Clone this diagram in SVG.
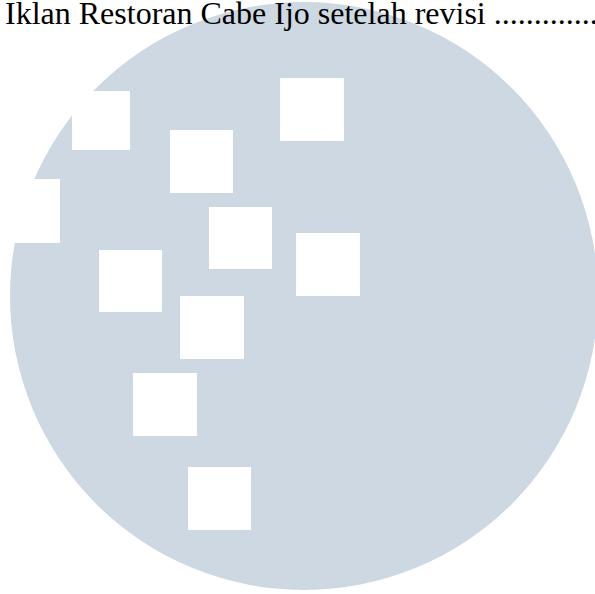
<svg xmlns="http://www.w3.org/2000/svg" width="595" height="594" viewBox="0 0 595 594">
  <style>
    .bg { fill: #ffffff; }
    .disc { fill: #CDD8E2; }
    .sq { fill: #ffffff; }
    .caption { font-family: "Liberation Serif", "Times New Roman", serif; font-size: 32px; fill: #000000; }
  </style>
  <rect class="bg" x="0" y="0" width="595" height="594"/>
  <circle class="disc" cx="304" cy="296" r="294"/>
  <g id="squares">
    <rect class="sq" x="72" y="91" width="58" height="59"/>
    <rect class="sq" x="170" y="130" width="63" height="63"/>
    <rect class="sq" x="-3" y="179" width="63" height="64"/>
    <rect class="sq" x="209" y="207" width="63" height="62"/>
    <rect class="sq" x="99" y="250" width="63" height="62"/>
    <rect class="sq" x="280" y="78" width="64" height="63"/>
    <rect class="sq" x="296" y="233" width="64" height="63"/>
    <rect class="sq" x="180" y="296" width="64" height="63"/>
    <rect class="sq" x="133" y="373" width="64" height="63"/>
    <rect class="sq" x="188" y="467" width="63" height="63"/>
  </g>
  <text class="caption" x="5" y="24">Iklan Restoran Cabe Ijo setelah revisi ....................</text>
</svg>
